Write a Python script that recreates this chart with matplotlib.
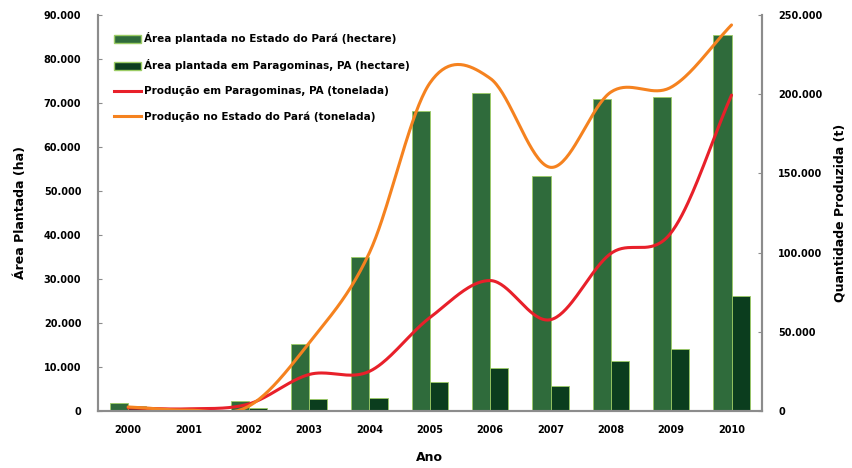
import numpy as np
import matplotlib
matplotlib.use('Agg')
import matplotlib.pyplot as plt
from matplotlib.ticker import FuncFormatter, MultipleLocator
from matplotlib.patches import Patch
from matplotlib.lines import Line2D

anos = ['2000', '2001', '2002', '2003', '2004', '2005',
        '2006', '2007', '2008', '2009', '2010']

# area plantada (hectare)
area_para = [1800, 600, 2300, 15200, 35000, 68200,
             72300, 53400, 70900, 71400, 85500]
area_paragominas = [1100, 400, 700, 2700, 2900, 6600,
                    9800, 5700, 11400, 14100, 26100]

# producao (tonelada)
prod_paragominas = [1900, 1300, 4400, 23000, 25000, 58900,
                    82300, 57600, 99400, 112600, 199400]
prod_para = [2500, 500, 3000, 43000, 100000, 207000,
             210000, 153800, 201300, 204400, 243700]

COR_PARA = '#2f6b3b'
COR_PGM = '#0b3d1e'
COR_BORDA = '#9ccc65'
COR_LARANJA = '#f5821f'
COR_VERMELHO = '#e8202a'
CINZA = '#8c8c8c'


def suaviza(x, y, n=40):
    # catmull-rom, parecido com a linha suavizada do excel
    x = np.asarray(x, float)
    y = np.asarray(y, float)
    px = np.concatenate([[2 * x[0] - x[1]], x, [2 * x[-1] - x[-2]]])
    py = np.concatenate([[2 * y[0] - y[1]], y, [2 * y[-1] - y[-2]]])
    xs, ys = [], []
    t = np.linspace(0, 1, n)
    for i in range(1, len(px) - 2):
        for p, out in ((px, xs), (py, ys)):
            p0, p1, p2, p3 = p[i - 1], p[i], p[i + 1], p[i + 2]
            out.append(0.5 * ((2 * p1) + (-p0 + p2) * t
                              + (2 * p0 - 5 * p1 + 4 * p2 - p3) * t ** 2
                              + (-p0 + 3 * p1 - 3 * p2 + p3) * t ** 3))
    return np.concatenate(xs), np.concatenate(ys)


def milhar(v, pos):
    return f'{int(v):,}'.replace(',', '.')


plt.rcParams['font.family'] = 'DejaVu Sans'

fig = plt.figure(figsize=(8.52, 4.68), dpi=100)
ax = fig.add_axes([0.115, 0.122, 0.779, 0.846])
ax2 = ax.twinx()

x = np.arange(len(anos))
w = 0.3
ax.bar(x - w / 2, area_para, w, color=COR_PARA, edgecolor=COR_BORDA, linewidth=0.6)
ax.bar(x + w / 2, area_paragominas, w, color=COR_PGM, edgecolor=COR_BORDA, linewidth=0.6)

xs, ys = suaviza(x, prod_paragominas)
ax2.plot(xs, ys, color=COR_VERMELHO, lw=2.2, solid_capstyle='round')
xs, ys = suaviza(x, prod_para)
ax2.plot(xs, ys, color=COR_LARANJA, lw=2.2, solid_capstyle='round')

ax.set_xlim(-0.5, len(anos) - 0.5)
ax.set_ylim(0, 90000)
ax2.set_ylim(0, 250000)
ax.yaxis.set_major_locator(MultipleLocator(10000))
ax2.yaxis.set_major_locator(MultipleLocator(50000))
ax.yaxis.set_major_formatter(FuncFormatter(milhar))
ax2.yaxis.set_major_formatter(FuncFormatter(milhar))
ax.set_xticks(x)
ax.set_xticklabels(anos)

for a in (ax, ax2):
    a.spines['top'].set_visible(False)
    for s in ('left', 'right', 'bottom'):
        a.spines[s].set_color(CINZA)
        a.spines[s].set_linewidth(1.5)
    a.tick_params(axis='y', direction='in', length=3, color=CINZA,
                  labelsize=7, pad=12)
    for lab in a.get_yticklabels():
        lab.set_fontweight('bold')
ax.tick_params(axis='x', length=0, labelsize=7, pad=10)
for lab in ax.get_xticklabels():
    lab.set_fontweight('bold')

ax.set_xlabel('Ano', fontsize=9, fontweight='bold', labelpad=12)
ax.set_ylabel('Área Plantada (ha)', fontsize=9, fontweight='bold', labelpad=12)
ax2.set_ylabel('Quantidade Produzida (t)', fontsize=9, fontweight='bold', labelpad=8)

handles = [
    Patch(facecolor=COR_PARA, edgecolor=COR_BORDA, label='Área plantada no Estado do Pará (hectare)'),
    Patch(facecolor=COR_PGM, edgecolor=COR_BORDA, label='Área plantada em Paragominas, PA (hectare)'),
    Line2D([], [], color=COR_VERMELHO, lw=2.2, label='Produção em Paragominas, PA (tonelada)'),
    Line2D([], [], color=COR_LARANJA, lw=2.2, label='Produção no Estado do Pará (tonelada)'),
]
leg = ax.legend(handles=handles, loc='upper left', bbox_to_anchor=(0.01, 0.98),
                frameon=False, prop={'size': 7.5, 'weight': 'bold'},
                handlelength=2.6, handleheight=0.8, handletextpad=0.3,
                labelspacing=1.45)

fig.savefig('out.png', dpi=100)
